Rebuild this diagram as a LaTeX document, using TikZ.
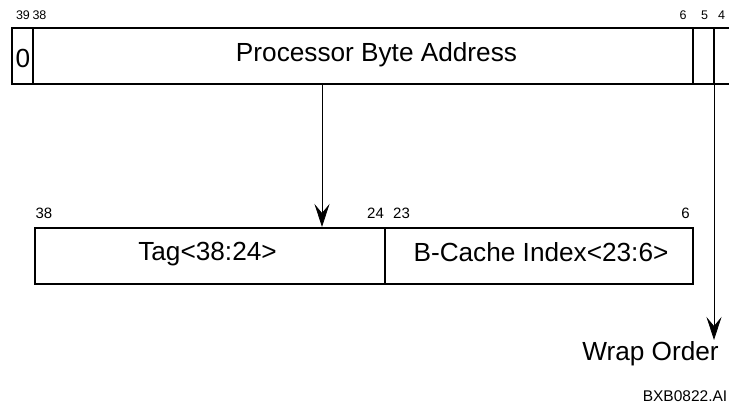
\documentclass[tikz,border=0pt]{standalone}
\usepackage{fontspec}
\setmainfont{Liberation Sans}
\usetikzlibrary{arrows.meta}
\begin{document}
\begin{tikzpicture}[x=1pt,y=-1pt,
  field/.style={draw, line width=2pt, rectangle, inner sep=0pt, outer sep=0pt, line join=miter},
  big/.style={font=\fontsize{26.2}{30}\selectfont, inner sep=0pt, anchor=base},
  bit/.style={font=\fontsize{12.5}{14}\selectfont, inner sep=0pt, anchor=base},
  lbit/.style={font=\fontsize{15}{18}\selectfont, inner sep=0pt, anchor=base},
  tag/.style={font=\fontsize{15.5}{18}\selectfont, inner sep=0pt, anchor=base},
  tip/.style={-{Stealth[length=23pt,width=15pt,inset=9pt]}, line width=0.8pt}]
\useasboundingbox (0,0) rectangle (729,406);
\begin{scope}
\clip (0,0) rectangle (729,406);
% 40-bit processor byte address register (open to the right)
\node[field, minimum width=21pt, minimum height=56pt] (sign) at (22.5,56) {};
\node[field, minimum width=660pt, minimum height=56pt] (addr) at (363,56) {};
\node[field, minimum width=21pt, minimum height=56pt] (b5) at (703.5,56) {};
\node[field, minimum width=40pt, minimum height=56pt] (b4) at (734,56) {};
\end{scope}
\node[big] (zero) at (23,68) {0};
\node[big] (pba) at (376.5,62) {Processor Byte Address};
% bit numbers of the address
\node[bit] (n39) at (23,20) {39};
\node[bit] (n38) at (39.5,20) {38};
\node[bit] (n6) at (683,20) {6};
\node[bit] (n5) at (704.5,20) {5};
\node[bit] (n4) at (721.5,20) {4};
% tag / index split
\node[field, minimum width=350pt, minimum height=56pt] (tagf) at (210,256) {};
\node[field, minimum width=308pt, minimum height=56pt] (idxf) at (539,256) {};
\node[big] (tagt) at (207.5,260.5) {Tag<38:24>};
\node[big] (idxt) at (541,261.5) {B-Cache Index<23:6>};
\node[lbit] (m38) at (44,219) {38};
\node[lbit] (m24) at (375.5,219) {24};
\node[lbit] (m23) at (401.5,219) {23};
\node[lbit] (m6) at (685.5,219) {6};
% connectors
\coordinate (tagin) at (322,227);
\draw[tip] (addr.south -| tagin) -- (tagin);
\coordinate (wrapend) at (714,340);
\draw[tip] (b4.south west) -- (wrapend);
\node[big] (wrap) at (650.5,360) {Wrap Order};
\node[tag] (fig) at (685,401) {BXB0822.AI};
\end{tikzpicture}
\end{document}
